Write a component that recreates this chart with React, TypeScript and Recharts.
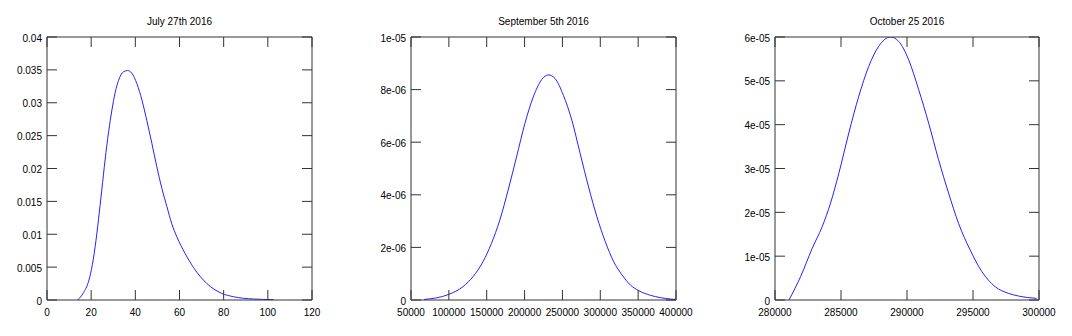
import * as React from "react";
import { LineChart, Line, XAxis, YAxis } from "recharts";

// July 27th 2016
const julyX = [13.9, 16.5, 18.8, 20.1, 21.8, 23.3, 24.8, 26.3, 27.9, 29.4, 30.9, 32.4, 34.6, 36.5, 38.4, 40.7, 43.0, 45.2, 47.5, 49.7, 52.0, 54.3, 56.5, 58.8, 62.5, 66.3, 72.3, 79.1, 84.4, 93.5, 102.6];
const julyY = [0, 0.0011, 0.0028, 0.0046, 0.0081, 0.0122, 0.0167, 0.0213, 0.0256, 0.0289, 0.0316, 0.0334, 0.0347, 0.0349, 0.0345, 0.0329, 0.0304, 0.0273, 0.0238, 0.0203, 0.017, 0.0142, 0.0116, 0.0096, 0.0071, 0.00496, 0.00253, 0.00101, 0.0005, 0.00015, 0.00005];
const julyXTicks = [0, 20, 40, 60, 80, 100, 120];
const julyYTicks = [0, 0.005, 0.01, 0.015, 0.02, 0.025, 0.03, 0.035, 0.04];
const julyYLabels = ["0", "0.005", "0.01", "0.015", "0.02", "0.025", "0.03", "0.035", "0.04"];

// September 5th 2016
const septX = [67200, 100000, 118600, 131900, 145100, 156200, 167300, 178300, 189400, 200400, 211500, 222600, 231400, 240300, 251300, 262400, 273400, 284500, 295600, 306600, 317700, 328800, 339800, 350900, 366400, 379700, 392000, 399500];
const septY = [0.02e-6, 0.215e-6, 0.506e-6, 0.886e-6, 1.456e-6, 2.15e-6, 3.04e-6, 4.18e-6, 5.44e-6, 6.71e-6, 7.72e-6, 8.38e-6, 8.56e-6, 8.42e-6, 7.78e-6, 6.84e-6, 5.57e-6, 4.3e-6, 3.16e-6, 2.22e-6, 1.456e-6, 0.95e-6, 0.57e-6, 0.354e-6, 0.177e-6, 0.089e-6, 0.038e-6, 0.02e-6];
const septXTicks = [50000, 100000, 150000, 200000, 250000, 300000, 350000, 400000];
const septYTicks = [0, 2e-6, 4e-6, 6e-6, 8e-6, 1e-5];
const septYLabels = ["0", "2e-06", "4e-06", "6e-06", "8e-06", "1e-05"];

// October 25 2016
const octX = [281058, 281940, 282820, 283577, 284207, 284836, 285592, 286348, 287103, 287859, 288741, 289370, 290126, 290882, 291637, 292393, 293149, 293904, 294786, 295668, 296675, 297683, 298439, 299824];
const octY = [0, 0.533e-5, 1.18e-5, 1.675e-5, 2.21e-5, 2.89e-5, 3.81e-5, 4.65e-5, 5.33e-5, 5.79e-5, 6.0e-5, 5.9e-5, 5.48e-5, 4.8e-5, 4.04e-5, 3.2e-5, 2.44e-5, 1.75e-5, 1.14e-5, 0.65e-5, 0.305e-5, 0.152e-5, 0.091e-5, 0.038e-5];
const octXTicks = [280000, 285000, 290000, 295000, 300000];
const octYTicks = [0, 1e-5, 2e-5, 3e-5, 4e-5, 5e-5, 6e-5];
const octYLabels = ["0", "1e-05", "2e-05", "3e-05", "4e-05", "5e-05", "6e-05"];

const FONT = "'Liberation Sans', Arial, sans-serif";
const INK = "#333";
const TICK = 10;

function BottomTick(props: any) {
  const { x, y, payload } = props;
  return (
    <g>
      <line x1={x} y1={y} x2={x} y2={y - TICK} stroke={INK} />
      <text x={x} y={y + 12} textAnchor="middle" dominantBaseline="central" fontSize={10} fontFamily={FONT} fill="#000">
        {String(payload.value)}
      </text>
    </g>
  );
}

function TopTick(props: any) {
  const { x, y } = props;
  return <line x1={x} y1={y} x2={x} y2={y + TICK} stroke={INK} />;
}

function LeftTick(props: any) {
  const { x, y, index, labels } = props;
  return (
    <g>
      <line x1={x} y1={y} x2={x + TICK} y2={y} stroke={INK} />
      <text x={x - 5} y={y + 1} textAnchor="end" dominantBaseline="central" fontSize={10} fontFamily={FONT} fill="#000">
        {labels[index]}
      </text>
    </g>
  );
}

function RightTick(props: any) {
  const { x, y } = props;
  return <line x1={x} y1={y} x2={x - TICK} y2={y} stroke={INK} />;
}

function Panel({
  title,
  xs,
  ys,
  xTicks,
  yTicks,
  yLabels,
  left,
  width,
  yAxisWidth,
  marginRight,
}: {
  title: string;
  xs: number[];
  ys: number[];
  xTicks: number[];
  yTicks: number[];
  yLabels: string[];
  left: number;
  width: number;
  yAxisWidth: number;
  marginRight: number;
}) {
  const data = xs.map((x, i) => ({ x, y: ys[i] }));
  const xDomain = [xTicks[0], xTicks[xTicks.length - 1]];
  const yDomain = [yTicks[0], yTicks[yTicks.length - 1]];
  const plotLeft = yAxisWidth;
  const plotRight = width - marginRight - 1;
  return (
    <div style={{ position: "absolute", left, top: 0, width, height: 336 }}>
      <div
        style={{
          position: "absolute",
          top: 16,
          left: plotLeft,
          width: plotRight - plotLeft,
          textAlign: "center",
          fontFamily: FONT,
          fontSize: 10,
          lineHeight: "12px",
          color: "#000",
        }}
      >
        {title}
      </div>
      <LineChart width={width} height={336} data={data} margin={{ top: 36, right: marginRight, bottom: 0, left: 0 }}>
        <XAxis
          dataKey="x"
          type="number"
          domain={xDomain}
          ticks={xTicks}
          interval={0}
          allowDataOverflow
          height={36}
          stroke={INK}
          tickSize={0}
          tickMargin={0}
          tickLine={false}
          tick={(p: any) => <BottomTick {...p} />}
        />
        <XAxis
          xAxisId="top"
          orientation="top"
          dataKey="x"
          type="number"
          domain={xDomain}
          ticks={xTicks}
          interval={0}
          allowDataOverflow
          height={1}
          stroke={INK}
          tickSize={0}
          tickMargin={0}
          tickLine={false}
          tick={(p: any) => <TopTick {...p} />}
        />
        <YAxis
          type="number"
          domain={yDomain}
          ticks={yTicks}
          interval={0}
          allowDataOverflow
          width={yAxisWidth}
          stroke={INK}
          tickSize={0}
          tickMargin={0}
          tickLine={false}
          tick={(p: any) => <LeftTick {...p} labels={yLabels} />}
        />
        <YAxis
          yAxisId="right"
          orientation="right"
          type="number"
          domain={yDomain}
          ticks={yTicks}
          interval={0}
          allowDataOverflow
          width={1}
          stroke={INK}
          tickSize={0}
          tickMargin={0}
          tickLine={false}
          tick={(p: any) => <RightTick {...p} />}
        />
        <Line type="monotone" dataKey="y" stroke="#2222ff" strokeWidth={1} dot={false} isAnimationActive={false} />
      </LineChart>
    </div>
  );
}

export default function App() {
  return (
    <div style={{ position: "absolute", left: 0, top: 0, width: 1072, height: 336, background: "#fff" }}>
      <Panel title="July 27th 2016" xs={julyX} ys={julyY} xTicks={julyXTicks} yTicks={julyYTicks} yLabels={julyYLabels} left={0} width={357} yAxisWidth={47} marginRight={44} />
      <Panel title="September 5th 2016" xs={septX} ys={septY} xTicks={septXTicks} yTicks={septYTicks} yLabels={septYLabels} left={357} width={357} yAxisWidth={54} marginRight={37} />
      <Panel title="October 25 2016" xs={octX} ys={octY} xTicks={octXTicks} yTicks={octYTicks} yLabels={octYLabels} left={714} width={358} yAxisWidth={61} marginRight={32} />
    </div>
  );
}
